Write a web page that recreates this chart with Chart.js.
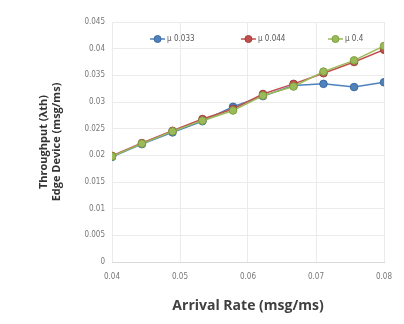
<!DOCTYPE html>
<html>
<head>
<meta charset="utf-8">
<script src="https://cdn.jsdelivr.net/npm/chart.js@4"></script>
<style>
  html, body { margin: 0; padding: 0; background: #fff; }
  #wrap { width: 404px; height: 324px; }
</style>
</head>
<body>
<div id="wrap"><canvas id="throughputChart"></canvas></div>
<script>
// arrival rate (msg/ms)
const arrivalRates = [0.04, 0.0444, 0.0489, 0.0533, 0.0578, 0.0622, 0.0667, 0.0711, 0.0756, 0.08];
// throughput per mu
const mu033 = [0.0197, 0.0221, 0.0243, 0.0264, 0.0291, 0.0311, 0.0331, 0.0334, 0.0328, 0.0337];
const mu044 = [0.0199, 0.0223, 0.0246, 0.0268, 0.0287, 0.0315, 0.0334, 0.0354, 0.0375, 0.0398];
const mu4 = [0.0198, 0.0222, 0.0245, 0.0265, 0.0284, 0.0312, 0.0329, 0.0357, 0.0378, 0.0405];
const seriesLabels = ['\u00b5 0.033', '\u00b5 0.044', '\u00b5 0.4'];
const xTicks = [0.04, 0.05, 0.06, 0.07, 0.08];

const colors = ['#4f81bd', '#c0504d', '#9bbb59'];
const borders = ['#3a6a9f', '#a03c39', '#7f9e3e'];
const smallFamily = '"DejaVu Sans Condensed", Roboto, sans-serif';
const tickFont = { family: smallFamily, size: 8 };

function toPoints(ys) {
  return ys.map((y, i) => ({ x: arrivalRates[i], y: y }));
}

function makeDataset(label, ys, i) {
  return {
    label: label,
    data: toPoints(ys),
    order: 2 - i,
    borderColor: colors[i],
    backgroundColor: colors[i],
    pointBackgroundColor: colors[i],
    pointBorderColor: borders[i],
    pointBorderWidth: 1,
    pointRadius: 3.8,
    borderWidth: 1.5,
    tension: 0
  };
}

// legend drawn inside the plot, excel style (line + marker + text)
const innerLegend = {
  id: 'innerLegend',
  afterDraw(chart) {
    const { ctx, chartArea } = chart;
    const spots = [0.14, 0.474, 0.794];
    const y = chartArea.top + 17;
    ctx.save();
    ctx.font = '8px ' + smallFamily;
    ctx.textBaseline = 'middle';
    chart.data.datasets.forEach((ds, i) => {
      const x = chartArea.left + spots[i] * chartArea.width;
      ctx.strokeStyle = colors[i];
      ctx.lineWidth = 1.5;
      ctx.beginPath();
      ctx.moveTo(x, y);
      ctx.lineTo(x + 15, y);
      ctx.stroke();
      ctx.fillStyle = colors[i];
      ctx.strokeStyle = borders[i];
      ctx.lineWidth = 1;
      ctx.beginPath();
      ctx.arc(x + 7.5, y, 3.5, 0, Math.PI * 2);
      ctx.fill();
      ctx.stroke();
      ctx.fillStyle = '#595959';
      ctx.fillText(ds.label, x + 17, y);
    });
    ctx.restore();
  }
};

const ctx = document.getElementById('throughputChart');
new Chart(ctx, {
  type: 'line',
  data: {
    datasets: [
      makeDataset(seriesLabels[0], mu033, 0),
      makeDataset(seriesLabels[1], mu044, 1),
      makeDataset(seriesLabels[2], mu4, 2)
    ]
  },
  options: {
    responsive: true,
    maintainAspectRatio: false,
    animation: false,
    layout: { padding: { left: 0, right: 20, top: 22, bottom: 0 } },
    plugins: {
      legend: { display: false },
      tooltip: { enabled: false }
    },
    scales: {
      x: {
        type: 'linear',
        min: 0.04,
        max: 0.08,
        afterBuildTicks: (scale) => { scale.ticks = xTicks.map(v => ({ value: v })); },
        afterFit: (scale) => { scale.height = 62; },
        grid: { color: '#ebebeb', drawTicks: false },
        border: { color: '#d9d9d9' },
        ticks: {
          color: '#777',
          font: tickFont,
          padding: 10,
          callback: (v) => String(Number(v.toFixed(2)))
        },
        title: {
          display: true,
          text: 'Arrival Rate (msg/ms)',
          color: '#404040',
          font: { family: 'Open Sans', size: 14, weight: 'bold' },
          padding: { top: 0, bottom: 10 }
        }
      },
      y: {
        min: 0,
        max: 0.045,
        afterFit: (scale) => { scale.width = 112; },
        grid: { color: '#ebebeb', drawTicks: false },
        border: { display: false },
        ticks: {
          stepSize: 0.005,
          color: '#777',
          font: tickFont,
          padding: 7,
          callback: (v) => String(Number(v.toFixed(3)))
        },
        title: {
          display: true,
          text: ['Throughput (\u03bbth)', 'Edge Device (msg/ms)'],
          color: '#333',
          font: { family: 'Open Sans', size: 11, weight: 'bold' },
          padding: { top: 37, bottom: 0 }
        }
      }
    }
  },
  plugins: [innerLegend]
});
</script>
</body>
</html>
